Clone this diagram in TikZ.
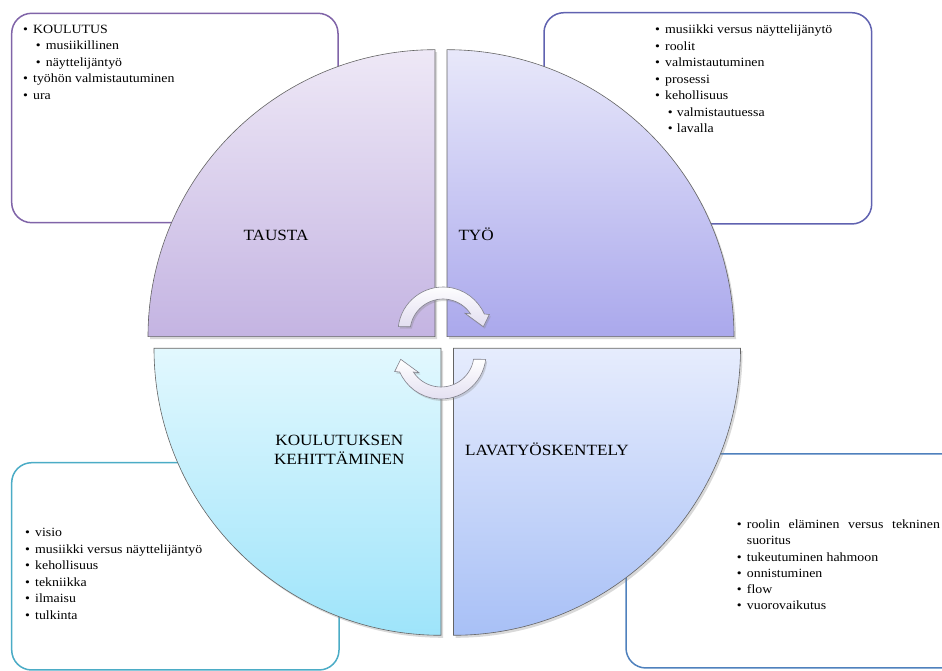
\documentclass[tikz,border=0pt]{standalone}
\usepackage{fontspec}
\setmainfont{Liberation Serif}[FakeStretch=1.1]
\usetikzlibrary{shadows}
\definecolor{boxTL}{RGB}{128,100,168}
\definecolor{boxTR}{RGB}{96,98,176}
\definecolor{boxBL}{RGB}{75,172,198}
\definecolor{boxBR}{RGB}{79,129,189}
\definecolor{qline}{RGB}{100,100,100}
\definecolor{tlTop}{RGB}{238,232,246}
\definecolor{tlBot}{RGB}{196,180,226}
\definecolor{trTop}{RGB}{232,232,250}
\definecolor{trBot}{RGB}{170,168,236}
\definecolor{blTop}{RGB}{226,248,254}
\definecolor{blBot}{RGB}{158,228,250}
\definecolor{brTop}{RGB}{230,236,253}
\definecolor{brBot}{RGB}{168,192,246}
\definecolor{arrFill}{RGB}{226,222,240}
\definecolor{arrLine}{RGB}{130,130,140}
\tikzset{
  infobox/.style={draw, line width=1.5pt, fill=white, rounded corners=20pt},
  quad/.style={draw=qline, line width=0.6pt,
    drop shadow={opacity=0.3, shadow xshift=2pt, shadow yshift=-2.5pt}},
  itm/.style={anchor=base west, inner sep=0pt, font=\fontsize{12.6}{15}\selectfont},
  lbl/.style={inner sep=0pt, font=\fontsize{15.6}{18}\selectfont},
  cyc/.style={draw=arrLine, line width=0.6pt, top color=white, bottom color=arrFill,
    drop shadow={opacity=0.3, shadow xshift=1.5pt, shadow yshift=-2pt}}
}
\newcommand{\bu}[1]{\makebox[10pt][l]{•}#1}
\newcommand{\bv}[1]{\makebox[9pt][l]{•}#1}
\begin{document}
\begin{tikzpicture}[x=1pt,y=1pt]
\useasboundingbox (0,0) rectangle (942,671);
\clip (0,0) rectangle (942,671);
% boxes
\draw[infobox, draw=boxTL] (11.7,448.3) rectangle (338,657.7);
\draw[infobox, draw=boxTR] (544,447) rectangle (871.7,658.3);
\draw[infobox, draw=boxBL] (11.7,1) rectangle (339,208.3);
\draw[infobox, draw=boxBR] (626,3) rectangle (965,217);
% quadrants
\shade[quad, top color=tlTop, bottom color=tlBot] (435,334.3) -- ++(-287,0) arc[start angle=180, end angle=90, radius=287] -- cycle;
\shade[quad, top color=trTop, bottom color=trBot] (447,334.3) -- ++(0,287) arc[start angle=90, end angle=0, radius=287] -- cycle;
\shade[quad, top color=blTop, bottom color=blBot] (441,322.7) -- ++(0,-287) arc[start angle=270, end angle=180, radius=287] -- cycle;
\shade[quad, top color=brTop, bottom color=brBot] (453.5,322.7) -- ++(287,0) arc[start angle=0, end angle=-90, radius=287] -- cycle;
% cycle arrows
\begin{scope}[shift={(443,339)}]
\shade[cyc] (173.2:45) arc[start angle=173.2, end angle=23.6, radius=45] -- (46.3,17.5) -- (40.3,5.3) -- (22,18.7) -- (33.1:33) arc[start angle=33.1, end angle=170.8, radius=33] -- cycle;
\end{scope}
\begin{scope}[shift={(441,317)}, rotate=180]
\shade[cyc] (173.2:45) arc[start angle=173.2, end angle=23.6, radius=45] -- (46.3,17.5) -- (40.3,5.3) -- (22,18.7) -- (33.1:33) arc[start angle=33.1, end angle=170.8, radius=33] -- cycle;
\end{scope}
% quadrant labels
\node[lbl, anchor=base west] (tausta) at (243.3,430) {TAUSTA};
\node[lbl, anchor=base west] (tyo) at (458.3,430.3) {TYÖ};
\node[lbl, anchor=base] (kout1) at (339.3,225.5) {KOULUTUKSEN};
\node[lbl, anchor=base] (kout2) at (339.3,206) {KEHITTÄMINEN};
\node[lbl, anchor=base west] (lava) at (465,215.5) {LAVATYÖSKENTELY};
% TL box text
\node[itm] (tl1) at (23,637.5) {\bu{KOULUTUS}};
\node[itm] (tl2) at (35.7,621) {\bu{musiikillinen}};
\node[itm] (tl3) at (35.7,604.5) {\bu{näyttelijäntyö}};
\node[itm] (tl4) at (23,588) {\bu{työhön valmistautuminen}};
\node[itm] (tl5) at (23,571.5) {\bu{ura}};
% TR box text
\node[itm] (tr1) at (655,637) {\bu{musiikki versus näyttelijänytö}};
\node[itm] (tr2) at (655,620.5) {\bu{roolit}};
\node[itm] (tr3) at (655,604) {\bu{valmistautuminen}};
\node[itm] (tr4) at (655,587.5) {\bu{prosessi}};
\node[itm] (tr5) at (655,571) {\bu{kehollisuus}};
\node[itm] (tr6) at (667.7,554.5) {\bv{valmistautuessa}};
\node[itm] (tr7) at (667.7,538) {\bv{lavalla}};
% BL box text
\node[itm] (bl1) at (25,134) {\bu{visio}};
\node[itm] (bl2) at (25,117.5) {\bu{musiikki versus näyttelijäntyö}};
\node[itm] (bl3) at (25,101) {\bu{kehollisuus}};
\node[itm] (bl4) at (25,84.5) {\bu{tekniikka}};
\node[itm] (bl5) at (25,68) {\bu{ilmaisu}};
\node[itm] (bl6) at (25,51.5) {\bu{tulkinta}};
% BR box text
\node[itm] (br1) at (736.7,142) {\bu{\hbox to 193pt{roolin\hfill eläminen\hfill versus\hfill tekninen}}};
\node[itm] (br1b) at (746.7,126) {suoritus};
\node[itm] (br2) at (736.7,109.5) {\bu{tukeutuminen hahmoon}};
\node[itm] (br3) at (736.7,93) {\bu{onnistuminen}};
\node[itm] (br4) at (736.7,77) {\bu{flow}};
\node[itm] (br5) at (736.7,61) {\bu{vuorovaikutus}};
\end{tikzpicture}
\end{document}
